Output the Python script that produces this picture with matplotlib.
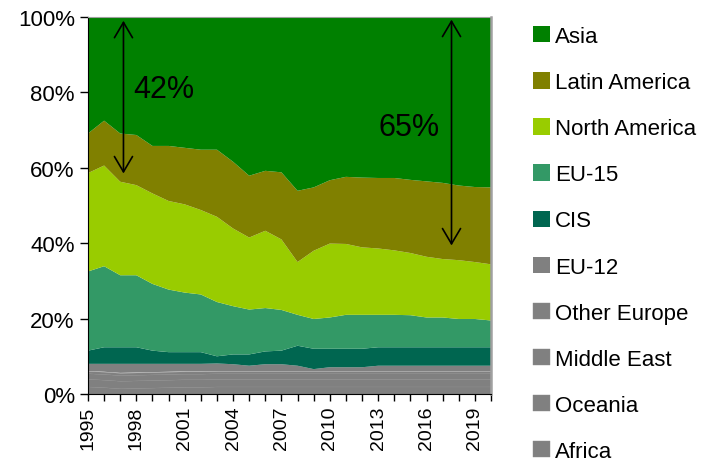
import numpy as np
import matplotlib
matplotlib.use('Agg')
import matplotlib.pyplot as plt

plt.rcParams['font.family'] = ['Liberation Sans', 'DejaVu Sans']

#Data (shares in %)
years = list(range(1995, 2021))
africa = [2.0,1.8,1.5,1.6,1.7,1.8,1.9,1.9,2.0,2.0,2.0,2.0,2.0,2.0,2.0,2.0,2.0,2.0,2.0,2.0,2.0,2.0,2.0,2.0,2.0,2.0]
oceania = [2.0]*26
middle_east = [1.5]*26
other_europe = [0.6]*26
eu12 = [1.9,2.1,2.4,2.3,2.2,2.1,2.0,2.0,2.0,1.8,1.4,1.8,1.8,1.4,0.5,1.0,1.0,1.0,1.4,1.4,1.4,1.4,1.4,1.4,1.4,1.4]
cis = [3.5,4.4,4.4,4.4,3.5,3.1,3.1,3.1,1.9,2.6,3.0,3.4,3.6,5.3,5.4,4.9,4.9,4.9,4.9,4.9,4.9,4.9,4.9,4.9,4.9,4.9]
eu15 = [21.0,21.5,19.1,19.1,17.7,16.6,15.8,15.3,14.4,12.8,11.9,11.5,10.8,8.2,7.9,8.3,9.0,9.0,8.6,8.6,8.5,7.9,7.9,7.5,7.5,7.1]
north_america = [26.1,26.7,24.8,23.9,24.0,23.5,23.4,22.4,22.6,20.6,19.1,20.5,18.7,14.0,18.1,19.6,18.8,17.9,17.6,17.1,16.5,16.1,15.5,15.6,15.1,14.9]
latin_america = [10.5,11.9,12.8,13.3,12.6,14.6,15.0,16.0,17.8,17.7,16.4,15.9,17.8,18.9,16.8,16.8,17.8,18.5,18.7,19.2,19.4,20.0,20.2,19.8,19.9,20.4]
asia = [30.9,27.5,30.9,31.3,34.2,34.2,34.7,35.2,35.2,38.4,42.1,40.8,41.2,46.1,45.2,43.3,42.4,42.6,42.7,42.7,43.2,43.6,44.0,44.7,45.1,45.2]

labels = ['Africa', 'Oceania', 'Middle East', 'Other Europe', 'EU-12',
          'CIS', 'EU-15', 'North America', 'Latin America', 'Asia']
series = [africa, oceania, middle_east, other_europe, eu12,
          cis, eu15, north_america, latin_america, asia]
colors = ['#808080']*5 + ['#006650', '#339966', '#99CC00', '#808000', '#008000']

fig = plt.figure(figsize=(7.02, 4.64), dpi=100)
ax = fig.add_axes([88/702, 1-395/464, (491-88)/702, (395-18)/464])

polys = ax.stackplot(years, *series, colors=colors, labels=labels, linewidth=0)
# faint seams between the grey regions
for p in polys[:4]:
    p.set_edgecolor('#8a8a8a')
    p.set_linewidth(0.3)

ax.set_xlim(1995, 2020)
ax.set_ylim(0, 100)

ax.set_yticks(range(0, 101, 20))
ax.set_yticklabels([f'{v}%' for v in range(0, 101, 20)], fontsize=16)
ax.set_xticks(years)
ax.set_xticklabels([str(y) if (y - 1995) % 3 == 0 else '' for y in years],
                   rotation=90, fontsize=14)
ax.tick_params(axis='y', direction='out', length=6, width=1)
ax.tick_params(axis='x', direction='out', length=5, width=1)

ax.spines['top'].set_color('#a0a0a0')
ax.spines['right'].set_color('#a0a0a0')
ax.spines['right'].set_linewidth(1.8)

# arrows and labels
arrow = dict(arrowstyle='<->,head_length=1.1,head_width=0.65', color='black', lw=1.2,
             shrinkA=0, shrinkB=0)
ax.annotate('', xy=(1997.2, 58.5), xytext=(1997.2, 99.0), arrowprops=arrow)
ax.annotate('', xy=(2017.55, 39.4), xytext=(2017.55, 99.3), arrowprops=arrow)
ax.text(1997.8, 80.8, '42%', fontsize=22, va='center', ha='left')
ax.text(2013.0, 70.8, '65%', fontsize=22, va='center', ha='left')

handles, labs = ax.get_legend_handles_labels()
fig.legend(handles[::-1], labs[::-1], loc='upper left',
           bbox_to_anchor=(533/702, 1-27/464), bbox_transform=fig.transFigure,
           frameon=False, fontsize=16, borderaxespad=0, borderpad=0,
           handlelength=0.75, handleheight=0.75, handletextpad=0.25,
           labelspacing=1.13)

fig.savefig('out.png', dpi=100)
